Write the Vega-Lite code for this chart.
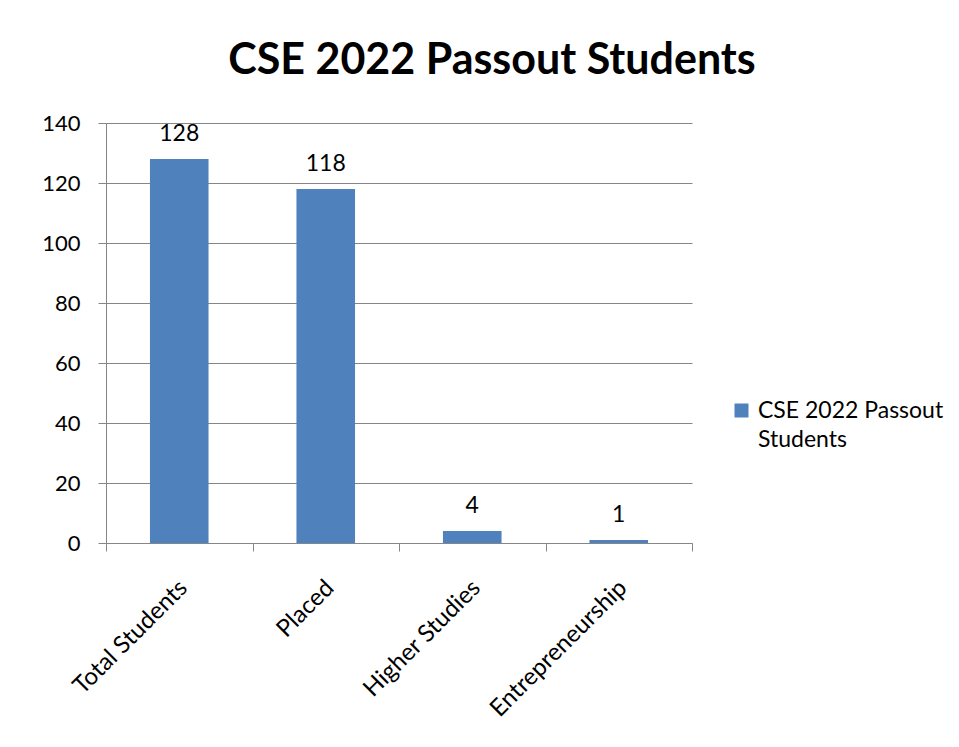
{
  "$schema": "https://vega.github.io/schema/vega-lite/v6.json",
  "autosize": {"type": "none"},
  "width": 586,
  "height": 420,
  "padding": {"left": 106, "top": 123, "right": 267, "bottom": 204},
  "background": "white",
  "title": {
    "text": "CSE 2022 Passout Students",
    "font": "Lato",
    "fontSize": 43,
    "fontWeight": "bold",
    "color": "#000000",
    "anchor": "middle",
    "dx": 93,
    "baseline": "alphabetic",
    "offset": -5
  },
  "data": {
    "values": [
      {"category": "Total Students", "count": 128, "series": "CSE 2022 Passout Students"},
      {"category": "Placed", "count": 118, "series": "CSE 2022 Passout Students"},
      {"category": "Higher Studies", "count": 4, "series": "CSE 2022 Passout Students"},
      {"category": "Entrepreneurship", "count": 1, "series": "CSE 2022 Passout Students"}
    ]
  },
  "encoding": {
    "x": {
      "field": "category",
      "type": "nominal",
      "sort": null,
      "scale": {"paddingInner": 0, "paddingOuter": 0},
      "axis": {
        "title": null,
        "labelAngle": -45,
        "labelAlign": "right",
        "labelBaseline": "middle",
        "labelFont": "Lato",
        "labelFontSize": 24,
        "labelColor": "#000000",
        "labelOffset": 4,
        "labelPadding": 33,
        "labelLimit": 400,
        "tickBand": "extent",
        "tickSize": 8,
        "tickColor": "#868686",
        "domainColor": "#868686",
        "grid": false
      }
    },
    "y": {
      "field": "count",
      "type": "quantitative",
      "scale": {"domain": [0, 140], "nice": false},
      "axis": {
        "title": null,
        "values": [0, 20, 40, 60, 80, 100, 120, 140],
        "labelFont": "Lato",
        "labelFontSize": 22,
        "labelColor": "#000000",
        "labelPadding": 18,
        "tickSize": 8,
        "tickColor": "#868686",
        "domainColor": "#868686",
        "grid": true,
        "gridColor": "#868686"
      }
    }
  },
  "layer": [
    {
      "mark": {"type": "bar", "width": {"band": 0.4}},
      "encoding": {
        "color": {
          "field": "series",
          "type": "nominal",
          "scale": {"range": ["#4F81BD"]},
          "legend": {
            "title": null,
            "orient": "none",
            "legendX": 624,
            "legendY": 276,
            "padding": 0,
            "symbolType": "square",
            "symbolSize": 196,
            "symbolStrokeWidth": 0,
            "labelFont": "Lato",
            "labelFontSize": 23,
            "labelColor": "#000000",
            "labelOffset": 5,
            "labelLimit": 300,
            "labelExpr": "[slice(datum.label, 0, 16), slice(datum.label, 17)]",
            "encode": {"labels": {"update": {"lineHeight": {"value": 29}}}}
          }
        }
      }
    },
    {
      "mark": {"type": "text", "font": "Lato", "fontSize": 23, "color": "#000000", "baseline": "alphabetic", "dy": -18},
      "encoding": {
        "text": {"field": "count", "type": "quantitative"}
      }
    }
  ],
  "config": {
    "view": {"stroke": null}
  }
}
